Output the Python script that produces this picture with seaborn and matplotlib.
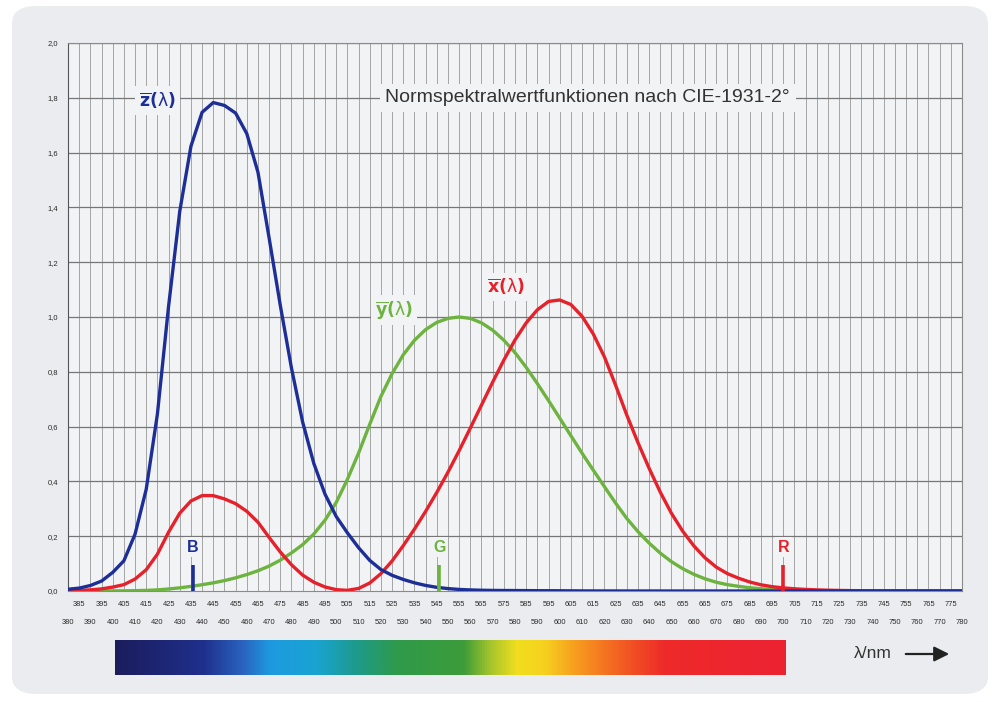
import numpy as np
import pandas as pd
import matplotlib
matplotlib.use("Agg")
import matplotlib.pyplot as plt
import seaborn as sns
from matplotlib.patches import FancyBboxPatch, FancyArrowPatch
from matplotlib.colors import LinearSegmentedColormap

# CIE 1931 2° colour matching functions, 5 nm steps
wavelength = list(range(380, 785, 5))
x_bar = [0.001368, 0.002236, 0.004243, 0.007650, 0.014310, 0.023190, 0.043510, 0.077630,
         0.134380, 0.214770, 0.283900, 0.328500, 0.348280, 0.348060, 0.336200, 0.318700,
         0.290800, 0.251100, 0.195360, 0.142100, 0.095640, 0.057950, 0.032010, 0.014700,
         0.004900, 0.002400, 0.009300, 0.029100, 0.063270, 0.109600, 0.165500, 0.225750,
         0.290400, 0.359700, 0.433450, 0.512050, 0.594500, 0.678400, 0.762100, 0.842500,
         0.916300, 0.978600, 1.026300, 1.056700, 1.062200, 1.045600, 1.002600, 0.938400,
         0.854450, 0.751400, 0.642400, 0.541900, 0.447900, 0.360800, 0.283500, 0.218700,
         0.164900, 0.121200, 0.087400, 0.063600, 0.046770, 0.032900, 0.022700, 0.015840,
         0.011359, 0.008111, 0.005790, 0.004109, 0.002899, 0.002049, 0.001440, 0.001000,
         0.000690, 0.000476, 0.000332, 0.000235, 0.000166, 0.000117, 0.000083, 0.000059,
         0.000042]
y_bar = [0.000039, 0.000064, 0.000120, 0.000217, 0.000396, 0.000640, 0.001210, 0.002180,
         0.004000, 0.007300, 0.011600, 0.016840, 0.023000, 0.029800, 0.038000, 0.048000,
         0.060000, 0.073900, 0.090980, 0.112600, 0.139020, 0.169300, 0.208020, 0.258600,
         0.323000, 0.407300, 0.503000, 0.608200, 0.710000, 0.793200, 0.862000, 0.914850,
         0.954000, 0.980300, 0.994950, 1.000000, 0.995000, 0.978600, 0.952000, 0.915400,
         0.870000, 0.816300, 0.757000, 0.694900, 0.631000, 0.566800, 0.503000, 0.441200,
         0.381000, 0.321000, 0.265000, 0.217000, 0.175000, 0.138200, 0.107000, 0.081600,
         0.061000, 0.044580, 0.032000, 0.023200, 0.017000, 0.011920, 0.008210, 0.005723,
         0.004102, 0.002929, 0.002091, 0.001484, 0.001047, 0.000740, 0.000520, 0.000361,
         0.000249, 0.000172, 0.000120, 0.000085, 0.000060, 0.000042, 0.000030, 0.000021,
         0.000015]
z_bar = [0.006450, 0.010550, 0.020050, 0.036210, 0.067850, 0.110200, 0.207400, 0.371300,
         0.645600, 1.039050, 1.385600, 1.622960, 1.747060, 1.782600, 1.772110, 1.744100,
         1.669200, 1.528100, 1.287640, 1.041900, 0.812950, 0.616200, 0.465180, 0.353300,
         0.272000, 0.212300, 0.158200, 0.111700, 0.078250, 0.057250, 0.042160, 0.029840,
         0.020300, 0.013400, 0.008750, 0.005750, 0.003900, 0.002750, 0.002100, 0.001800,
         0.001650, 0.001400, 0.001100, 0.001000, 0.000800, 0.000600, 0.000340, 0.000240,
         0.000190, 0.000100, 0.000050, 0.000030, 0.000020, 0.000010] + [0.0] * 27

# Primary markers (B, G, R) in nm
primary_names = ["B", "G", "R"]
primary_wl = [435.8, 546.1, 700.0]

y_ticks = [0.0, 0.2, 0.4, 0.6, 0.8, 1.0, 1.2, 1.4, 1.6, 1.8, 2.0]
y_ticklabels = ["0,0", "0,2", "0,4", "0,6", "0,8", "1,0", "1,2", "1,4", "1,6", "1,8", "2,0"]
x_major = list(range(380, 790, 10))
x_minor = list(range(385, 780, 10))

# Colour stops of the spectrum strip (position, colour)
spectrum_stops = [(0.00, "#1b1d5c"), (0.13, "#1f2f8c"), (0.19, "#2a63c0"), (0.23, "#1e9ae0"),
                  (0.30, "#1aa3d2"), (0.36, "#1e9a8a"), (0.42, "#2f9a4a"), (0.52, "#3d9c3a"),
                  (0.56, "#a6c52c"), (0.60, "#f1de1f"), (0.64, "#f6d21e"), (0.69, "#f79a1f"),
                  (0.76, "#f25a22"), (0.82, "#ee2a2a"), (1.00, "#ec2232")]

COL_X = "#e5212b"
COL_Y = "#6db33f"
COL_Z = "#1d2f96"
BG_AX = "#f2f3f5"

df = pd.DataFrame({"wl": wavelength, "x": x_bar, "y": y_bar, "z": z_bar})

sns.set_style("white")
plt.rcParams["font.family"] = ["Liberation Sans", "DejaVu Sans"]
plt.rcParams["mathtext.fontset"] = "dejavusans"

fig = plt.figure(figsize=(9.96, 7.02), dpi=100)
fig.patch.set_facecolor("white")

# rounded light-gray panel behind everything
panel = FancyBboxPatch((12 / 996, 8 / 702), 976 / 996, 688 / 702,
                       boxstyle="round,pad=0,rounding_size=0.025",
                       transform=fig.transFigure, facecolor="#ebecef",
                       edgecolor="none", zorder=-10)
fig.add_artist(panel)

ax = fig.add_axes([68 / 996, 1 - 591 / 702, 894 / 996, 548 / 702])
ax.set_facecolor(BG_AX)

# grid
for v in range(380, 785, 5):
    ax.axvline(v, color="#a0a0a0", lw=0.65, zorder=1)
for h in y_ticks[1:]:
    ax.axhline(h, color="#767676", lw=0.9, zorder=1)

sns.lineplot(data=df, x="wl", y="y", ax=ax, color=COL_Y, lw=2.4, zorder=3)
sns.lineplot(data=df, x="wl", y="x", ax=ax, color=COL_X, lw=2.4, zorder=4)
sns.lineplot(data=df, x="wl", y="z", ax=ax, color=COL_Z, lw=2.4, zorder=5)

ax.set_xlim(380, 780)
ax.set_ylim(0, 2.0)
ax.set_xlabel("")
ax.set_ylabel("")

for s in ax.spines.values():
    s.set_color("#8a8a8a")
    s.set_linewidth(0.8)
ax.spines["left"].set_color("#555555")

ax.set_yticks(y_ticks)
ax.set_yticklabels(y_ticklabels, fontsize=5.5, color="#2a2a2a")
ax.set_xticks(x_major)
ax.set_xticklabels([str(v) for v in x_major], fontsize=5.4, color="#2a2a2a")
ax.set_xticks(x_minor, minor=True)
ax.set_xticklabels([str(v) for v in x_minor], minor=True, fontsize=5.4, color="#2a2a2a")
ax.tick_params(axis="x", which="major", length=3, pad=17, color="#888888", width=0.6)
ax.tick_params(axis="x", which="minor", length=3, pad=4, color="#888888", width=0.6)
ax.tick_params(axis="y", length=0, pad=7)

# primary markers
for name, wl, col in zip(primary_names, primary_wl, [COL_Z, COL_Y, COL_X]):
    ax.vlines(wl, 0, 0.095, color=col, lw=2.6, zorder=6)
    ax.text(wl, 0.16, name, color=col, fontsize=11.5, ha="center", va="center",
            fontweight="bold", zorder=7,
            bbox=dict(facecolor=BG_AX, edgecolor="none", pad=2))

label_box = dict(facecolor=BG_AX, edgecolor="none", pad=3)
ax.text(420, 1.79, r"$\overline{\mathbf{z}}\mathbf{(\mathrm{\lambda})}$", color=COL_Z,
        fontsize=12.5, ha="center", va="center", zorder=7, bbox=label_box)
ax.text(526, 1.025, r"$\overline{\mathbf{y}}\mathbf{(\mathrm{\lambda})}$", color=COL_Y,
        fontsize=12.5, ha="center", va="center", zorder=2, bbox=label_box)
ax.text(576, 1.11, r"$\overline{\mathbf{x}}\mathbf{(\mathrm{\lambda})}$", color=COL_X,
        fontsize=12.5, ha="center", va="center", zorder=2, bbox=label_box)
ax.text(612.5, 1.8, "Normspektralwertfunktionen nach CIE-1931-2°", color="#333333",
        fontsize=14, ha="center", va="center", zorder=2,
        bbox=dict(facecolor=BG_AX, edgecolor="none", pad=4))

# spectrum strip
sax = fig.add_axes([115 / 996, 1 - 675 / 702, 670 / 996, 35 / 702])
cmap = LinearSegmentedColormap.from_list("spectrum", spectrum_stops)
sax.imshow(np.linspace(0, 1, 512)[None, :], aspect="auto", cmap=cmap,
           extent=[0, 1, 0, 1])
sax.set_axis_off()

fig.text(892 / 996, 1 - 653 / 702, "λ/nm", fontsize=12.5, color="#333333",
         ha="right", va="center")
fig.add_artist(FancyArrowPatch(
    (903 / 996, 1 - 654 / 702), (952 / 996, 1 - 654 / 702),
    transform=fig.transFigure, arrowstyle="-|>,head_length=0.9,head_width=0.45",
    color="#222222", lw=1.6, mutation_scale=10))

fig.savefig("out.png", dpi=100, facecolor=fig.get_facecolor())
